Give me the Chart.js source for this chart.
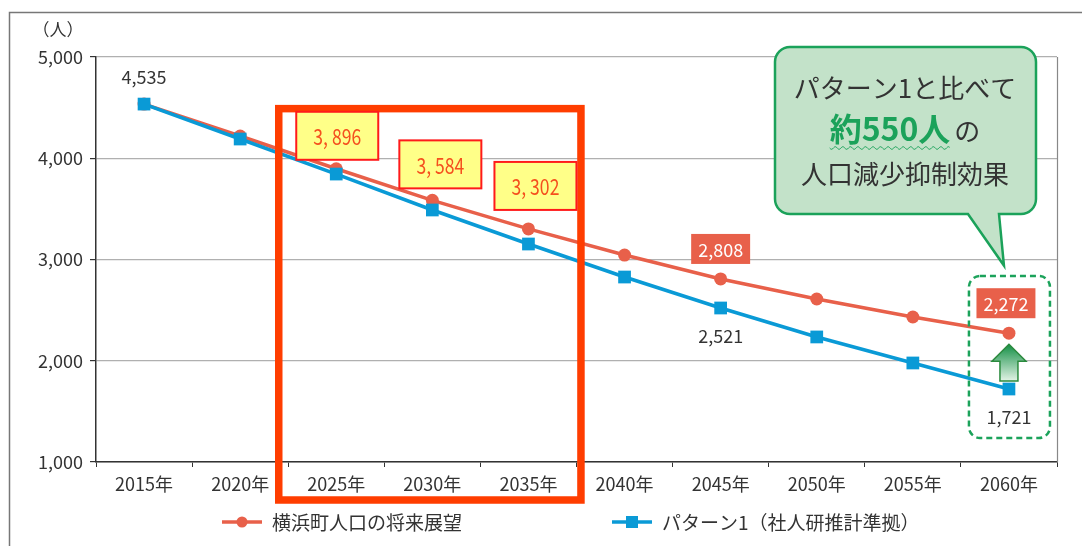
<!DOCTYPE html>
<html>
<head>
<meta charset="utf-8">
<script src="https://cdn.jsdelivr.net/npm/chart.js@4.4.1/dist/chart.umd.min.js"></script>
<style>
body { margin: 0; background: #fff; }
#wrap { width: 1082px; height: 546px; }
</style>
</head>
<body>
<div id="wrap"><canvas id="popChart" width="1082" height="546"></canvas></div>
<script>
// 年次
var years = ['2015年', '2020年', '2025年', '2030年', '2035年', '2040年', '2045年', '2050年', '2055年', '2060年'];
// 横浜町人口の将来展望
var vision = [4535, 4220, 3896, 3584, 3302, 3044, 2808, 2610, 2432, 2272];
// パターン1（社人研推計準拠）
var pattern1 = [4535, 4190, 3844, 3489, 3153, 2827, 2521, 2235, 1978, 1721];
var seriesNames = ['横浜町人口の将来展望', 'パターン1（社人研推計準拠）'];
var yMin = 1000, yMax = 5000, yStep = 1000;

// ラベルを付ける点
var yellowIdx = [2, 3, 4];      // 黄色の枠
var redBoxIdx = [6, 9];         // 赤い塗り
var topLabelIdx = [0];          // 上に黒文字（パターン1）
var bottomLabelIdx = [6, 9];    // 下に黒文字（パターン1）

var calloutLines = ['パターン1と比べて', '約550人', 'の', '人口減少抑制効果'];

var ORANGE = '#e8604a';
var BLUE = '#0a9ad6';
var GREEN = '#1ba25a';
var FONT = "'Noto Sans CJK JP', 'Noto Sans', sans-serif";

Chart.defaults.font.family = FONT;

function fmt(v) {
    return String(v).replace(/\B(?=(\d{3})+(?!\d))/g, ',');
}

function roundRect(ctx, x, y, w, h, r) {
    ctx.beginPath();
    ctx.moveTo(x + r, y);
    ctx.lineTo(x + w - r, y);
    ctx.arcTo(x + w, y, x + w, y + r, r);
    ctx.lineTo(x + w, y + h - r);
    ctx.arcTo(x + w, y + h, x + w - r, y + h, r);
    ctx.lineTo(x + r, y + h);
    ctx.arcTo(x, y + h, x, y + h - r, r);
    ctx.lineTo(x, y + r);
    ctx.arcTo(x, y, x + r, y, r);
    ctx.closePath();
}

var deco = {
    id: 'deco',
    beforeDraw: function (chart) {
        var ctx = chart.ctx;
        ctx.save();
        ctx.fillStyle = '#fff';
        ctx.fillRect(0, 0, chart.width, chart.height);
        // 外枠
        ctx.strokeStyle = '#777';
        ctx.lineWidth = 1.5;
        ctx.beginPath();
        ctx.moveTo(9.5, chart.height);
        ctx.lineTo(9.5, 12.5);
        ctx.lineTo(chart.width, 12.5);
        ctx.stroke();
        ctx.restore();
    },
    afterDraw: function (chart) {
        var ctx = chart.ctx;
        var area = chart.chartArea;
        var xs = chart.scales.x, ys = chart.scales.y;
        var m0 = chart.getDatasetMeta(0).data;
        var m1 = chart.getDatasetMeta(1).data;
        ctx.save();

        // プロット右枠
        ctx.strokeStyle = '#888';
        ctx.lineWidth = 1.2;
        ctx.beginPath();
        ctx.moveTo(area.right + 0.5, area.top);
        ctx.lineTo(area.right + 0.5, area.bottom);
        ctx.stroke();

        // 単位
        ctx.fillStyle = '#333';
        ctx.font = '17px ' + FONT;
        ctx.textAlign = 'center';
        ctx.textBaseline = 'middle';
        ctx.fillText('（人）', 58, 30);

        // 黒文字ラベル
        ctx.font = '18px ' + FONT;
        topLabelIdx.forEach(function (i) {
            ctx.fillText(fmt(pattern1[i]), m1[i].x, m1[i].y - 27);
        });
        bottomLabelIdx.forEach(function (i) {
            ctx.fillText(fmt(pattern1[i]), m1[i].x, m1[i].y + 28);
        });

        // 赤い塗りラベル
        redBoxIdx.forEach(function (i) {
            var t = fmt(vision[i]);
            ctx.font = '18px ' + FONT;
            var w = ctx.measureText(t).width + 14;
            var cx = m0[i].x - (i === 9 ? 3 : 0), cy = m0[i].y - 30;
            ctx.fillStyle = ORANGE;
            ctx.fillRect(cx - w / 2, cy - 15, w, 30);
            ctx.fillStyle = '#fff';
            ctx.fillText(t, cx, cy + 1);
        });

        // 2025〜2035の赤枠
        ctx.strokeStyle = '#ff3d00';
        ctx.lineWidth = 7.5;
        var rl = xs.getPixelForValue(2) - 57.5;
        var rr = xs.getPixelForValue(4) + 52.5;
        var rt = ys.getPixelForValue(4490);
        var rb = area.bottom + 38;
        ctx.strokeRect(rl, rt, rr - rl, rb - rt);

        // 黄色の枠ラベル
        var yOff = [[1, -33], [8, -36], [7, -43]];
        yellowIdx.forEach(function (i, k) {
            var cx = m0[i].x + yOff[k][0], cy = m0[i].y + yOff[k][1];
            ctx.fillStyle = '#ffff88';
            ctx.fillRect(cx - 41, cy - 24, 82, 48);
            ctx.strokeStyle = '#ff1a1a';
            ctx.lineWidth = 2;
            ctx.strokeRect(cx - 41, cy - 24, 82, 48);
            ctx.save();
            ctx.translate(cx, cy + 1);
            ctx.scale(0.8, 1);
            ctx.fillStyle = '#f5501e';
            ctx.font = '22px ' + FONT;
            ctx.fillText(fmt(vision[i]).replace(',', ', '), 0, 0);
            ctx.restore();
        });

        // 吹き出し
        var bx = 775, by = 47, bw = 261, bh = 167;
        var tip = { x: m0[9].x - 5, y: ys.getPixelForValue(2940) };
        ctx.beginPath();
        var r = 15;
        ctx.moveTo(bx + r, by);
        ctx.lineTo(bx + bw - r, by);
        ctx.arcTo(bx + bw, by, bx + bw, by + r, r);
        ctx.lineTo(bx + bw, by + bh - r);
        ctx.arcTo(bx + bw, by + bh, bx + bw - r, by + bh, r);
        ctx.lineTo(999, by + bh);
        ctx.lineTo(tip.x, tip.y);
        ctx.lineTo(968, by + bh);
        ctx.lineTo(bx + r, by + bh);
        ctx.arcTo(bx, by + bh, bx, by + bh - r, r);
        ctx.lineTo(bx, by + r);
        ctx.arcTo(bx, by, bx + r, by, r);
        ctx.closePath();
        ctx.fillStyle = '#c3e2c9';
        ctx.fill();
        ctx.strokeStyle = GREEN;
        ctx.lineWidth = 2.5;
        ctx.stroke();

        var ccx = 905;
        ctx.fillStyle = '#333';
        ctx.textAlign = 'center';
        ctx.font = '26px ' + FONT;
        ctx.fillText(calloutLines[0], ccx, 88);
        ctx.fillText(calloutLines[3], ccx, 174);
        ctx.font = 'bold 32px ' + FONT;
        var w1 = ctx.measureText(calloutLines[1]).width;
        ctx.font = '26px ' + FONT;
        var w2 = ctx.measureText(calloutLines[2]).width;
        var sx = ccx - (w1 + w2 + 4) / 2;
        ctx.textAlign = 'left';
        ctx.fillStyle = GREEN;
        ctx.font = 'bold 32px ' + FONT;
        ctx.fillText(calloutLines[1], sx, 129);
        ctx.fillStyle = '#333';
        ctx.font = '26px ' + FONT;
        ctx.fillText(calloutLines[2], sx + w1 + 4, 131);
        // 波線
        ctx.strokeStyle = GREEN;
        ctx.lineWidth = 1;
        ctx.beginPath();
        for (var px = sx; px <= sx + w1; px += 1) {
            var py = 148 + Math.sin((px - sx) / 1.2) * 1.3;
            if (px === sx) ctx.moveTo(px, py); else ctx.lineTo(px, py);
        }
        ctx.stroke();

        // 点線の枠
        ctx.setLineDash([6, 4]);
        ctx.lineWidth = 2.5;
        ctx.strokeStyle = GREEN;
        roundRect(ctx, m0[9].x - 40, 276, 81, 162, 11);
        ctx.stroke();
        ctx.setLineDash([]);

        // 矢印
        var ax = m0[9].x;
        var atop = m0[9].y + 11, ahead = atop + 17, abot = m1[9].y - 8;
        var g = ctx.createLinearGradient(0, atop, 0, abot);
        g.addColorStop(0, '#138f45');
        g.addColorStop(1, '#e3f3e6');
        ctx.beginPath();
        ctx.moveTo(ax, atop);
        ctx.lineTo(ax + 17, ahead);
        ctx.lineTo(ax + 9, ahead);
        ctx.lineTo(ax + 9, abot);
        ctx.lineTo(ax - 9, abot);
        ctx.lineTo(ax - 9, ahead);
        ctx.lineTo(ax - 17, ahead);
        ctx.closePath();
        ctx.fillStyle = g;
        ctx.fill();
        ctx.strokeStyle = '#2b8a3e';
        ctx.lineWidth = 1.5;
        ctx.stroke();

        // 凡例
        var ly = 522;
        var legend = [
            { x: 222, color: ORANGE, shape: 'circle', text: seriesNames[0] },
            { x: 612, color: BLUE, shape: 'square', text: seriesNames[1] }
        ];
        legend.forEach(function (l) {
            ctx.strokeStyle = l.color;
            ctx.lineWidth = 3.5;
            ctx.beginPath();
            ctx.moveTo(l.x, ly);
            ctx.lineTo(l.x + 40, ly);
            ctx.stroke();
            ctx.fillStyle = l.color;
            if (l.shape === 'circle') {
                ctx.beginPath();
                ctx.arc(l.x + 20, ly, 5.5, 0, Math.PI * 2);
                ctx.fill();
            } else {
                ctx.fillRect(l.x + 14, ly - 6, 12, 12);
            }
            ctx.fillStyle = '#333';
            ctx.font = '19px ' + FONT;
            ctx.textAlign = 'left';
            ctx.fillText(l.text, l.x + 50, ly + 1);
        });

        ctx.restore();
    }
};

var ctx = document.getElementById('popChart').getContext('2d');
new Chart(ctx, {
    type: 'line',
    data: {
        labels: years,
        datasets: [{
            label: seriesNames[0],
            data: vision,
            borderColor: ORANGE,
            backgroundColor: ORANGE,
            borderWidth: 3.5,
            pointStyle: 'circle',
            pointRadius: 6.5,
            pointBorderWidth: 0,
            tension: 0,
            order: 2
        }, {
            label: seriesNames[1],
            data: pattern1,
            borderColor: BLUE,
            backgroundColor: BLUE,
            borderWidth: 3.5,
            pointStyle: 'rect',
            pointRadius: 9,
            pointBorderWidth: 0,
            tension: 0,
            order: 1
        }]
    },
    options: {
        responsive: false,
        animation: false,
        layout: {
            padding: { left: 0, top: 57, right: 25, bottom: 44 }
        },
        plugins: {
            legend: { display: false },
            tooltip: { enabled: false }
        },
        scales: {
            x: {
                offset: true,
                afterFit: function (scale) { scale.height = 40; },
                grid: {
                    offset: true,
                    drawOnChartArea: false,
                    tickLength: 5,
                    tickColor: '#333'
                },
                border: { color: '#333', width: 1.5 },
                ticks: {
                    color: '#333',
                    font: { size: 18 },
                    padding: 6,
                    maxRotation: 0
                }
            },
            y: {
                min: yMin,
                max: yMax,
                afterFit: function (scale) { scale.width = 96; },
                grid: {
                    color: '#b0b0b0',
                    lineWidth: 1.2,
                    tickColor: '#333',
                    tickLength: 6
                },
                border: { color: '#333', width: 1.5 },
                ticks: {
                    stepSize: yStep,
                    color: '#333',
                    font: { size: 18 },
                    padding: 7,
                    callback: function (v) { return fmt(v); }
                }
            }
        }
    },
    plugins: [deco]
});
</script>
</body>
</html>
